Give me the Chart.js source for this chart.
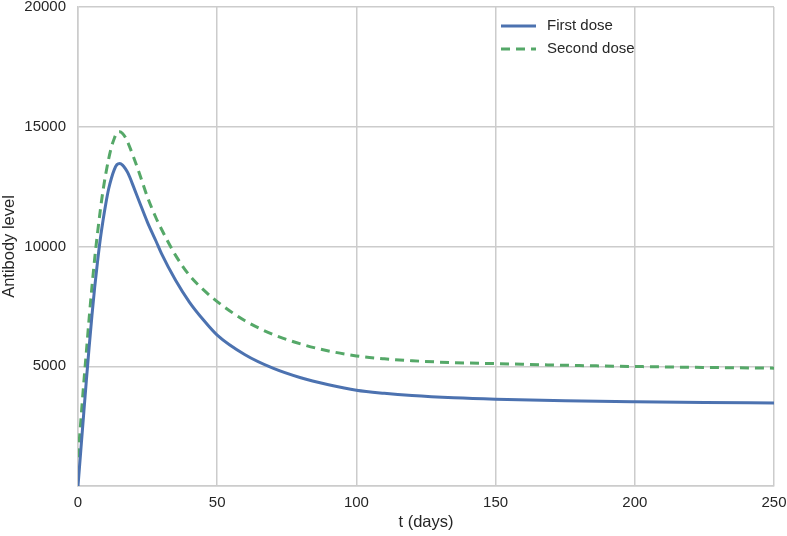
<!DOCTYPE html>
<html>
<head>
<meta charset="utf-8">
<script src="https://cdn.jsdelivr.net/npm/chart.js@4/dist/chart.umd.min.js"></script>
<style>
  html, body { margin: 0; padding: 0; background: #fff; }
  #wrap { width: 787px; height: 536px; }
</style>
</head>
<body>
<div id="wrap"><canvas id="chart_a" width="787" height="536"></canvas></div>
<script>
// days sampled for both curves
var days = [0, 1, 2, 3, 4, 5, 6, 7, 8, 9, 10, 11, 12, 13, 14, 15, 16, 17, 18, 20, 22, 25, 28, 30, 35, 40, 45, 50, 60, 70, 80, 90, 100, 110, 120, 135, 150, 175, 200, 225, 250];

var firstDose = [0, 1480, 2950, 4400, 5800, 7100, 8300, 9350, 10300, 11100, 11800, 12400, 12850, 13200, 13420, 13470, 13400, 13250, 13050, 12480, 11880, 11000, 10230, 9700, 8600, 7680, 6940, 6300, 5480, 4920, 4520, 4230, 4000, 3870, 3775, 3680, 3620, 3560, 3520, 3490, 3470];

var secondDose = [1200, 2700, 4200, 5600, 7000, 8300, 9500, 10550, 11500, 12350, 13050, 13650, 14150, 14500, 14750, 14790, 14720, 14560, 14320, 13720, 13070, 12050, 11200, 10720, 9640, 8800, 8200, 7700, 6900, 6330, 5930, 5640, 5430, 5310, 5230, 5150, 5110, 5040, 4990, 4950, 4920];

var seriesNames = ['First dose', 'Second dose'];
var xTicks = [0, 50, 100, 150, 200, 250];
var yTicks = [0, 5000, 10000, 15000, 20000];

var fontFam = '"Liberation Sans", Arial, Helvetica, sans-serif';

function toPoints(vals) {
  return days.map(function (d, i) { return {x: d, y: vals[i]}; });
}

// small legend drawn inside the plot, like the original
var innerLegend = {
  id: 'innerLegend',
  afterDraw: function (chart) {
    var ctx = chart.ctx;
    var x0 = 501, y0 = 26, row = 23;
    ctx.save();
    chart.data.datasets.forEach(function (ds, i) {
      var y = y0 + i * row;
      ctx.beginPath();
      ctx.strokeStyle = ds.borderColor;
      ctx.lineWidth = 3;
      ctx.setLineDash(ds.borderDash || []);
      ctx.moveTo(x0, y);
      ctx.lineTo(x0 + 35, y);
      ctx.stroke();
      ctx.setLineDash([]);
      ctx.fillStyle = '#262626';
      ctx.font = '15px ' + fontFam;
      ctx.textBaseline = 'middle';
      ctx.fillText(ds.label, x0 + 46, y);
    });
    ctx.restore();
  }
};

var ctxL = document.getElementById('chart_a').getContext('2d');
var myLineChart = new Chart(ctxL, {
  type: 'line',
  data: {
    datasets: [{
      label: seriesNames[0],
      data: toPoints(firstDose),
      borderColor: '#4c72b0',
      borderWidth: 3,
      pointRadius: 0,
      cubicInterpolationMode: 'monotone',
      fill: false
    }, {
      label: seriesNames[1],
      data: toPoints(secondDose),
      borderColor: '#55a868',
      borderWidth: 3,
      borderDash: [9, 6],
      pointRadius: 0,
      cubicInterpolationMode: 'monotone',
      fill: false
    }]
  },
  options: {
    responsive: false,
    animation: false,
    layout: { padding: { top: 7, right: 13, left: 0, bottom: 0 } },
    plugins: { legend: { display: false }, tooltip: { enabled: false } },
    scales: {
      x: {
        type: 'linear',
        min: 0,
        max: 250,
        afterBuildTicks: function (s) { s.ticks = xTicks.map(function (v) { return {value: v}; }); },
        afterFit: function (s) { s.height = 50; s.paddingLeft = 0; s.paddingRight = 0; },
        grid: { color: '#cccccc', lineWidth: 1.5, drawTicks: false },
        border: { color: '#cccccc', width: 1.5 },
        ticks: { color: '#262626', padding: 8, font: { family: fontFam, size: 15 } },
        title: { display: true, text: 't (days)', color: '#262626', padding: { top: 2 }, font: { family: fontFam, size: 16.5 } }
      },
      y: {
        min: 0,
        max: 20000,
        afterBuildTicks: function (s) { s.ticks = yTicks.map(function (v) { return {value: v}; }); },
        afterFit: function (s) { s.width = 78; s.paddingTop = 0; s.paddingBottom = 0; },
        grid: { color: '#cccccc', lineWidth: 1.5, drawTicks: false },
        border: { color: '#cccccc', width: 1.5 },
        ticks: {
          color: '#262626',
          padding: 12,
          font: { family: fontFam, size: 15 },
          callback: function (v) { return v === 0 ? '' : String(v); }
        },
        title: { display: true, text: 'Antibody level', color: '#262626', padding: 0, font: { family: fontFam, size: 16.5 } }
      }
    }
  },
  plugins: [innerLegend]
});
</script>
</body>
</html>
